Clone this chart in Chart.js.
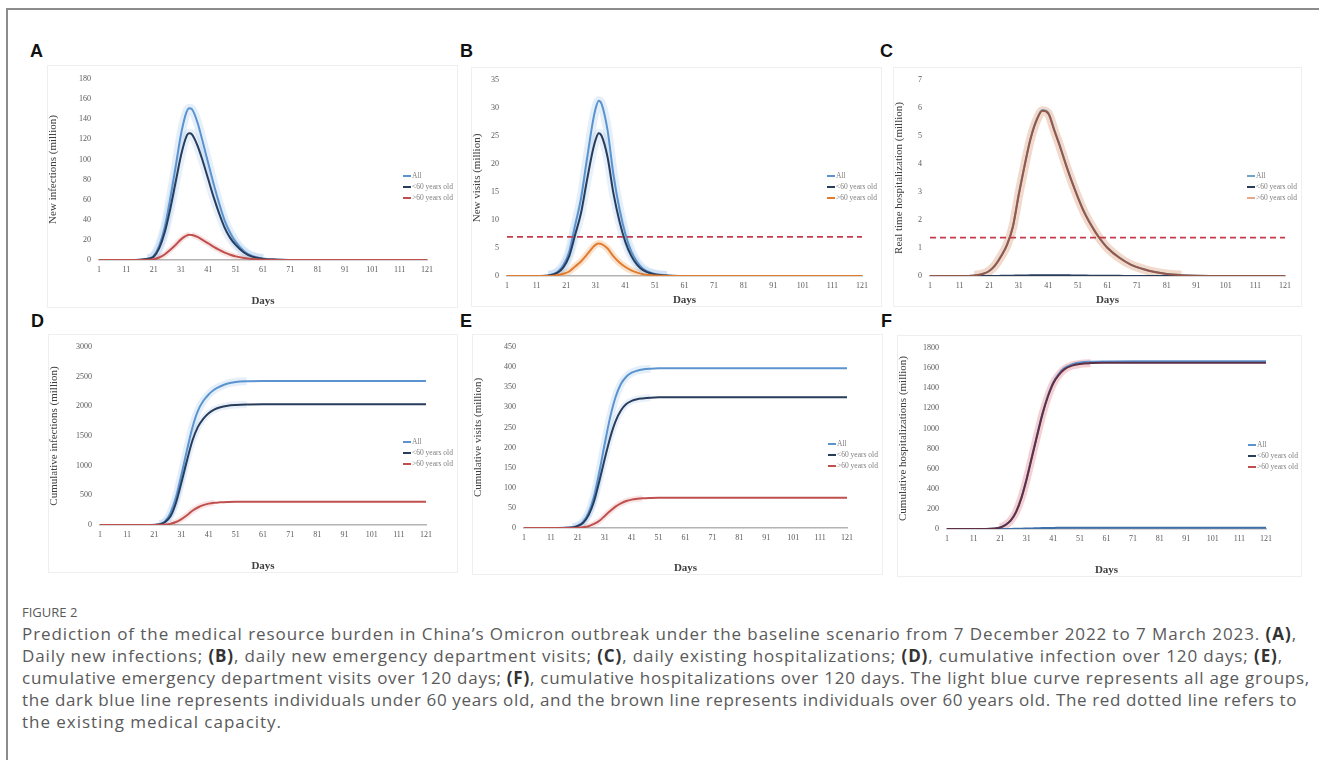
<!DOCTYPE html>
<html>
<head>
<meta charset="utf-8">
<script src="https://cdn.jsdelivr.net/npm/chart.js@4.4.0/dist/chart.umd.min.js"></script>
<style>
  body { margin: 0; background: #fff; width: 1319px; height: 760px; overflow: hidden; position: relative; }
  .frame { position: absolute; left: 6px; top: 8px; width: 1400px; height: 800px;
           border-top: 2px solid #8c8c8c; border-left: 2px solid #8c8c8c; }
  .panel { position: absolute; border: 1px solid #efefef; box-sizing: border-box; }
  .panel canvas { position: absolute; left: -1px; top: -1px; }
  .tag { position: absolute; font: bold 18px 'Liberation Sans', Arial, sans-serif; color: #111; line-height: 18px; }
  .fig { position: absolute; left: 22px; top: 603px; font: 13px 'Open Sans', sans-serif; color: #5a5a5a; }
  .caption { position: absolute; left: 22px; top: 623px; font: 17px 'Open Sans', sans-serif; color: #5a5a5a; line-height: 22px; }
  .cap-line { white-space: nowrap; display: block; width: max-content; }
  .caption b { color: #333; }
</style>
</head>
<body>
<div class="frame"></div>

<div class="tag" style="left:30px;top:42px">A</div>
<div class="tag" style="left:460px;top:42px">B</div>
<div class="tag" style="left:880px;top:42px">C</div>
<div class="tag" style="left:31px;top:312px">D</div>
<div class="tag" style="left:460px;top:312px">E</div>
<div class="tag" style="left:881px;top:312px">F</div>

<div class="panel" style="left:47px;top:65px;width:411px;height:243px"><canvas id="chartA" width="411" height="243"></canvas></div>
<div class="panel" style="left:471px;top:67px;width:411px;height:240px"><canvas id="chartB" width="411" height="240"></canvas></div>
<div class="panel" style="left:893px;top:67px;width:409px;height:240px"><canvas id="chartC" width="409" height="240"></canvas></div>
<div class="panel" style="left:48px;top:334px;width:410px;height:239px"><canvas id="chartD" width="410" height="239"></canvas></div>
<div class="panel" style="left:472px;top:334px;width:411px;height:241px"><canvas id="chartE" width="411" height="241"></canvas></div>
<div class="panel" style="left:897px;top:335px;width:405px;height:242px"><canvas id="chartF" width="405" height="242"></canvas></div>

<div class="fig">FIGURE 2</div>
<div class="caption">
  <span class="cap-line" data-end="1297">Prediction of the medical resource burden in China’s Omicron outbreak under the baseline scenario from 7 December 2022 to 7 March 2023. <b>(A)</b>,</span>
  <span class="cap-line" data-end="1283">Daily new infections; <b>(B)</b>, daily new emergency department visits; <b>(C)</b>, daily existing hospitalizations; <b>(D)</b>, cumulative infection over 120 days; <b>(E)</b>,</span>
  <span class="cap-line" data-end="1310">cumulative emergency department visits over 120 days; <b>(F)</b>, cumulative hospitalizations over 120 days. The light blue curve represents all age groups,</span>
  <span class="cap-line" data-end="1297">the dark blue line represents individuals under 60 years old, and the brown line represents individuals over 60 years old. The red dotted line refers to</span>
  <span class="cap-line" data-end="282">the existing medical capacity.</span>
</div>

<script>
// x axis ticks (days) and legend labels
const dayTicks = [1, 11, 21, 31, 41, 51, 61, 71, 81, 91, 101, 111, 121];
const legendLabels = ['All', '<60 years old', '>60 years old'];

// A: daily new infections (million)
const daysA = [1, 11, 16, 19, 21, 23, 25, 27, 29, 31, 33, 34, 35, 37, 39, 41, 43, 45, 47, 49, 51, 54, 57, 61, 66, 71, 81, 121];
const allA = [0, 0, 0.3, 1.5, 4, 14, 32, 60, 92, 125, 147, 151, 150, 137, 117, 96, 75, 56, 39, 27, 18, 9, 4, 1.4, 0.4, 0.1, 0, 0];
const under60A = [0, 0, 0.25, 1.2, 3.3, 11.5, 27, 50, 77, 104, 123, 126, 125, 114, 98, 80, 62, 46, 32, 22, 15, 7.5, 3.3, 1.1, 0.3, 0.1, 0, 0];
const over60A = [0, 0, 0.05, 0.3, 0.7, 2.5, 5.5, 10, 15, 20.5, 24.2, 25, 24.8, 23, 19.8, 16.5, 13, 10, 7.3, 5.2, 3.6, 2, 1, 0.35, 0.1, 0, 0, 0];

// B: daily new visits (million)
const daysB = [1, 11, 15, 18, 20, 22, 24, 26, 28, 30, 31, 32, 33, 35, 37, 39, 41, 43, 45, 47, 50, 55, 61, 121];
const allB = [0, 0, 0.1, 0.7, 1.9, 4.3, 9, 13.8, 20.8, 27.5, 30, 31.3, 30.7, 26, 18, 12, 7.5, 4.4, 2.5, 1.3, 0.5, 0.1, 0, 0];
const under60B = [0, 0, 0.08, 0.55, 1.5, 3.5, 7.3, 11.2, 17, 22.4, 24.4, 25.5, 25, 21.2, 14.7, 9.8, 6.1, 3.6, 2, 1.05, 0.4, 0.08, 0, 0];
const over60B = [0, 0, 0.02, 0.15, 0.4, 0.8, 1.7, 2.6, 3.8, 5.1, 5.6, 5.8, 5.7, 4.9, 3.5, 2.4, 1.6, 1, 0.6, 0.3, 0.12, 0.02, 0, 0];
const capacityB = 7;

// C: real time hospitalization (million)
const daysC = [1, 11, 16, 19, 21, 23, 25, 27, 29, 31, 33, 35, 37, 39, 41, 43, 45, 47, 49, 51, 53, 55, 57, 59, 61, 65, 69, 73, 77, 81, 86, 91, 101, 121];
const allC = [0, 0, 0.02, 0.08, 0.18, 0.38, 0.71, 1.11, 1.76, 2.92, 3.97, 4.92, 5.58, 5.93, 5.83, 5.23, 4.63, 3.98, 3.37, 2.82, 2.32, 1.91, 1.56, 1.26, 1.01, 0.66, 0.4, 0.25, 0.14, 0.07, 0.03, 0.01, 0, 0];
const under60C = [0, 0, 0, 0, 0, 0.002, 0.005, 0.008, 0.012, 0.016, 0.02, 0.025, 0.028, 0.03, 0.03, 0.03, 0.028, 0.025, 0.022, 0.019, 0.016, 0.013, 0.011, 0.009, 0.007, 0.005, 0.003, 0.002, 0.001, 0, 0, 0, 0, 0];
const over60C = [0, 0, 0.02, 0.08, 0.18, 0.38, 0.7, 1.1, 1.75, 2.9, 3.95, 4.9, 5.55, 5.9, 5.8, 5.2, 4.6, 3.95, 3.35, 2.8, 2.3, 1.9, 1.55, 1.25, 1.0, 0.65, 0.4, 0.25, 0.14, 0.07, 0.03, 0.01, 0, 0];
const capacityC = 1.37;

// D, E, F: cumulative series share one set of days
const daysCum = [1, 11, 19, 21, 23, 25, 27, 29, 31, 33, 35, 37, 39, 41, 43, 45, 48, 51, 55, 61, 71, 121];
const allD = [0, 0, 1, 3, 15, 65, 210, 470, 850, 1260, 1640, 1920, 2090, 2200, 2280, 2330, 2385, 2410, 2422, 2427, 2428, 2428];
const under60D = [0, 0, 1, 2, 12, 50, 150, 380, 720, 1085, 1420, 1650, 1790, 1885, 1945, 1980, 2010, 2022, 2030, 2034, 2035, 2035];
const over60D = [0, 0, 0, 1, 3, 8, 22, 50, 100, 165, 240, 295, 335, 360, 375, 382, 388, 391, 393, 393, 393, 393];

const allE = [0, 0, 2, 6, 16, 38, 78, 140, 210, 275, 325, 358, 376, 386, 391, 394, 396, 397, 397, 397, 397, 397];
const under60E = [0, 0, 1.5, 5, 13, 32, 66, 117, 172, 224, 265, 292, 308, 316, 320, 322, 324, 325, 325, 325, 325, 325];
const over60E = [0, 0, 0, 0.5, 2, 4.5, 10, 18, 30, 42, 53, 61, 67, 70.5, 72.5, 74, 74.8, 75, 75, 75, 75, 75];

const allF = [0, 0, 5, 15, 40.5, 86, 172, 313, 504.5, 726, 947.5, 1159, 1330, 1461, 1541.5, 1597, 1637.5, 1655, 1663, 1666, 1667, 1667];
const under60F = [0, 0, 0, 0, 0.5, 1, 2, 3, 4.5, 6, 7.5, 9, 10, 11, 11.5, 12, 12.5, 13, 13, 13, 13, 13];
const over60F = [0, 0, 5, 15, 40, 85, 170, 310, 500, 720, 940, 1150, 1320, 1450, 1530, 1585, 1625, 1642, 1650, 1653, 1654, 1654];

Chart.defaults.font.family = "'Liberation Serif', 'Times New Roman', serif";
Chart.defaults.animation = false;

const BLUE = '#5b93cf', NAVY = '#283c5c', RED = '#c0504d';
const BLUE_GLOW = 'rgba(120,175,230,0.2)', NAVY_GLOW = 'rgba(110,160,215,0.16)';

// draws the small legend that sits inside the plot, like the Excel original
const sideLegend = {
  id: 'sideLegend',
  afterDraw(chart, args, opts) {
    const ctx = chart.ctx;
    ctx.save();
    ctx.font = "7.5px 'Liberation Serif', serif";
    ctx.textBaseline = 'middle';
    opts.items.forEach((it, k) => {
      const y = opts.y + k * 11;
      ctx.strokeStyle = it.color;
      ctx.lineWidth = 2;
      ctx.beginPath();
      ctx.moveTo(opts.x, y);
      ctx.lineTo(opts.x + 8, y);
      ctx.stroke();
      ctx.fillStyle = '#7f7f7f';
      ctx.fillText(it.text, opts.x + 9, y + 0.5);
    });
    ctx.restore();
  }
};

function pts(days, values) {
  return days.map((d, i) => ({ x: d, y: values[i] }));
}

function makeChart(id, cfg) {
  const datasets = [];
  // the soft halo only shows where the curve is actually moving
  const flat = c => Math.max(c.p0.parsed.y, c.p1.parsed.y) < cfg.yMax * 0.01 ||
                    Math.abs(c.p1.parsed.y - c.p0.parsed.y) < cfg.yMax * 0.0025;
  cfg.series.forEach((s, i) => {
    if (s.glow) {
      datasets.push({
        data: pts(cfg.days, s.values), borderColor: s.glow, borderWidth: s.glowWidth || 9, order: 20 + i,
        segment: { borderColor: c => flat(c) ? 'rgba(0,0,0,0)' : s.glow }
      });
    }
    datasets.push({ label: legendLabels[i], data: pts(cfg.days, s.values), borderColor: s.color, borderWidth: s.width || 2, order: 10 - i });
  });
  if (cfg.capacity !== undefined) {
    datasets.push({ data: [{ x: 1, y: cfg.capacity }, { x: 121, y: cfg.capacity }], borderColor: '#c43c4c', borderWidth: 1.8, borderDash: [6, 4], order: 0 });
  }

  new Chart(document.getElementById(id), {
    type: 'line',
    data: { datasets },
    options: {
      responsive: false,
      layout: { padding: { top: cfg.padTop, right: cfg.padRight, left: 0, bottom: 0 } },
      elements: { point: { radius: 0 }, line: { cubicInterpolationMode: 'monotone' } },
      plugins: {
        legend: { display: false },
        tooltip: { enabled: false },
        sideLegend: {
          x: cfg.legendX, y: cfg.legendY,
          items: cfg.series.map((s, i) => ({ text: legendLabels[i], color: s.legendColor || s.color }))
        }
      },
      scales: {
        x: {
          type: 'linear', min: 1, max: 121,
          afterBuildTicks: scale => { scale.ticks = dayTicks.map(v => ({ value: v })); },
          afterFit: scale => { scale.height = cfg.xHeight; },
          grid: { display: false, drawTicks: false },
          border: { display: true, color: '#b3b3b3', width: 1.6 },
          ticks: { font: { size: 8 }, color: '#595959', padding: 5, maxRotation: 0, autoSkip: false },
          title: { display: true, text: 'Days', color: '#404040', font: { size: 11, weight: 'bold' }, padding: { top: 0, bottom: 0 } }
        },
        y: {
          min: 0, max: cfg.yMax,
          afterFit: scale => { scale.width = cfg.yWidth; },
          grid: { display: false, drawTicks: false },
          border: { display: false },
          ticks: { stepSize: cfg.yStep, font: { size: 8 }, color: '#595959', padding: 8, callback: v => String(v) },
          title: { display: true, text: cfg.yTitle, color: '#404040', font: { size: 11 }, padding: { top: 0, bottom: 0 } }
        }
      }
    },
    plugins: [sideLegend]
  });
}

makeChart('chartA', {
  days: daysA, yMax: 180, yStep: 20, yTitle: 'New infections (million)',
  padTop: 14, padRight: 31, yWidth: 52, xHeight: 48, legendX: 356, legendY: 111,
  series: [
    { values: allA, color: BLUE, glow: BLUE_GLOW },
    { values: under60A, color: NAVY, glow: NAVY_GLOW },
    { values: over60A, color: RED, glow: 'rgba(220,120,120,0.2)', glowWidth: 6 }
  ]
});

makeChart('chartB', {
  days: daysB, yMax: 35, yStep: 5, yTitle: 'New visits (million)', capacity: capacityB,
  padTop: 13, padRight: 20, yWidth: 36, xHeight: 31, legendX: 356, legendY: 109,
  series: [
    { values: allB, color: BLUE, glow: BLUE_GLOW },
    { values: under60B, color: NAVY, glow: NAVY_GLOW },
    { values: over60B, color: '#e07b2f', glow: 'rgba(240,160,90,0.3)', glowWidth: 7 }
  ]
});

makeChart('chartC', {
  days: daysC, yMax: 7, yStep: 1, yTitle: 'Real time hospitalization (million)', capacity: capacityC,
  padTop: 13, padRight: 17, yWidth: 37, xHeight: 31, legendX: 354, legendY: 109,
  series: [
    { values: allC, color: '#6fa3c8' },
    { values: under60C, color: NAVY },
    { values: over60C, color: '#94574a', glow: 'rgba(225,170,140,0.45)', glowWidth: 9, legendColor: '#e3a98a' }
  ]
});

makeChart('chartD', {
  days: daysCum, yMax: 3000, yStep: 500, yTitle: 'Cumulative infections (million)',
  padTop: 13, padRight: 32, yWidth: 52, xHeight: 48, legendX: 355, legendY: 108,
  series: [
    { values: allD, color: BLUE, glow: BLUE_GLOW, glowWidth: 8 },
    { values: under60D, color: NAVY, glow: NAVY_GLOW, glowWidth: 7 },
    { values: over60D, color: RED, glow: 'rgba(220,120,120,0.2)', glowWidth: 6 }
  ]
});

makeChart('chartE', {
  days: daysCum, yMax: 450, yStep: 50, yTitle: 'Cumulative visits (million)',
  padTop: 13, padRight: 36, yWidth: 52, xHeight: 47, legendX: 356, legendY: 110,
  series: [
    { values: allE, color: BLUE, glow: BLUE_GLOW, glowWidth: 8 },
    { values: under60E, color: NAVY, glow: NAVY_GLOW, glowWidth: 7 },
    { values: over60E, color: RED, glow: 'rgba(220,120,120,0.2)', glowWidth: 6 }
  ]
});

makeChart('chartF', {
  days: daysCum, yMax: 1800, yStep: 200, yTitle: 'Cumulative hospitalizations (million)',
  padTop: 13, padRight: 36, yWidth: 50, xHeight: 48, legendX: 351, legendY: 110,
  series: [
    { values: allF, color: BLUE },
    { values: under60F, color: '#3e6fa8', legendColor: NAVY },
    { values: over60F, color: '#5e2f45', glow: 'rgba(225,120,130,0.35)', glowWidth: 8, legendColor: RED }
  ]
});

// stretch the caption lines to the widths of the original layout
document.querySelectorAll('.cap-line').forEach(el => {
  const target = Number(el.dataset.end) - 22;
  const w = el.getBoundingClientRect().width;
  const n = el.textContent.length;
  el.style.letterSpacing = ((target - w) / n) + 'px';
});
</script>
</body>
</html>
